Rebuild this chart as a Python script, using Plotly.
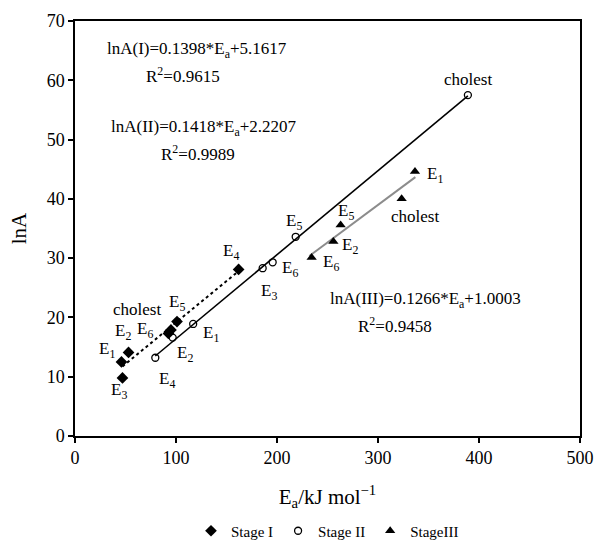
import plotly.graph_objects as go

# ---------------- data ----------------
s1_labels = ["E<sub>1</sub>", "E<sub>2</sub>", "E<sub>3</sub>", "E<sub>4</sub>", "E<sub>5</sub>", "E<sub>6</sub>", "cholest"]
s1_ea = [46, 53, 47, 162, 101, 92.5, 95]
s1_lna = [12.5, 14.1, 9.8, 28.1, 19.3, 17.3, 17.9]

s2_labels = ["E<sub>1</sub>", "E<sub>2</sub>", "E<sub>3</sub>", "E<sub>4</sub>", "E<sub>5</sub>", "E<sub>6</sub>", "cholest"]
s2_ea = [117, 96.7, 185.8, 79.5, 218.5, 195.7, 389]
s2_lna = [18.9, 16.6, 28.3, 13.2, 33.6, 29.3, 57.5]

s3_labels = ["E<sub>1</sub>", "E<sub>2</sub>", "E<sub>5</sub>", "E<sub>6</sub>", "cholest"]
s3_ea = [336.6, 255.8, 263, 234.3, 323.4]
s3_lna = [44.6, 32.8, 35.6, 30.1, 40.0]

# fitted lines (slope, intercept, x-range) as shown on the chart
fit_slope = [0.1398, 0.1418, 0.1266]
fit_intercept = [5.1617, 2.2207, 1.0003]
fit_xrange = [[47, 161], [79.5, 389], [232, 337]]
fit_r2 = ["0.9615", "0.9989", "0.9458"]
fit_names = ["I", "II", "III"]

# label offsets (pixels, dx right, dy down)
s1_off = [(-14, -12), (-6, -20), (-3, 13), (-8, -17), (0, -19), (-23, -3), (-34, -20)]
s2_off = [(18, 10), (12, 16), (6, 24), (12, 22), (-2, -15), (17, 7), (0, -16)]
s3_off = [(20, 3), (17, 4), (5, -13), (19, 5), (13, 18)]

FONT = "Liberation Serif"

fig = go.Figure()

line_styles = [
    dict(color="black", width=2, dash="dot"),
    dict(color="black", width=1.6),
    dict(color="#8c8c8c", width=2),
]
for i in range(3):
    x0, x1 = fit_xrange[i]
    fig.add_trace(go.Scatter(
        x=[x0, x1],
        y=[fit_slope[i] * x0 + fit_intercept[i], fit_slope[i] * x1 + fit_intercept[i]],
        mode="lines", line=line_styles[i], showlegend=False, hoverinfo="skip"))

fig.add_trace(go.Scatter(x=s1_ea, y=s1_lna, mode="markers", name="Stage I",
                         marker=dict(symbol="diamond", size=9, color="black")))
fig.add_trace(go.Scatter(x=s2_ea, y=s2_lna, mode="markers", name="Stage II",
                         marker=dict(symbol="circle-open", size=7, color="black",
                                     line=dict(width=1.3, color="black"))))
fig.add_trace(go.Scatter(x=s3_ea, y=s3_lna, mode="markers", name="StageIII",
                         marker=dict(symbol="triangle-up", size=9, color="black")))

ann = []
for labels, xs, ys, offs in [(s1_labels, s1_ea, s1_lna, s1_off),
                             (s2_labels, s2_ea, s2_lna, s2_off),
                             (s3_labels, s3_ea, s3_lna, s3_off)]:
    for lab, x, y, (dx, dy) in zip(labels, xs, ys, offs):
        ann.append(dict(x=x, y=y, xref="x", yref="y", text=lab, showarrow=False,
                        xshift=dx, yshift=-dy, xanchor="center", yanchor="middle",
                        font=dict(family=FONT, size=17, color="black")))

# equations (positions in paper coords)
eq_pos = [((197, 50), (183, 75)), ((203, 128), (198, 153)), ((425, 300), (395, 325))]
L, R, T, B = 75, 580, 21, 436
def px(xp, yp):
    return (xp - L) / (R - L), (B - yp) / (B - T)
for i in range(3):
    (e_x, e_y), (r_x, r_y) = eq_pos[i]
    ex, ey = px(e_x, e_y)
    rx, ry = px(r_x, r_y)
    ann.append(dict(x=ex, y=ey, xref="paper", yref="paper", showarrow=False,
                    text=f"lnA({fit_names[i]})={fit_slope[i]:.4f}*E<sub>a</sub>+{fit_intercept[i]:.4f}",
                    xanchor="center", yanchor="middle",
                    font=dict(family=FONT, size=17, color="black")))
    ann.append(dict(x=rx, y=ry, xref="paper", yref="paper", showarrow=False,
                    text=f"R<sup>2</sup>={fit_r2[i]}",
                    xanchor="center", yanchor="middle",
                    font=dict(family=FONT, size=17, color="black")))

fig.update_layout(
    template="none",
    width=597, height=545,
    margin=dict(l=L, r=597 - R, t=T, b=545 - B, autoexpand=False),
    paper_bgcolor="white", plot_bgcolor="white",
    font=dict(family=FONT, color="black"),
    annotations=ann,
    showlegend=True,
    legend=dict(orientation="h", x=0.5, xanchor="center",
                yref="container", y=1 - 531 / 545, yanchor="middle",
                font=dict(family=FONT, size=15, color="black"),
                itemwidth=30, tracegroupgap=0, bgcolor="rgba(0,0,0,0)"),
)
fig.update_xaxes(range=[0, 500], dtick=100, showgrid=False, zeroline=False, automargin=False,
                 showline=True, linecolor="black", linewidth=1.5, mirror=True,
                 ticks="outside", ticklen=5, tickwidth=1.5, tickcolor="black",
                 tickfont=dict(family=FONT, size=18, color="black"),
                 title=dict(text="E<sub>a</sub>/kJ mol<sup>−1</sup>", standoff=22,
                            font=dict(family=FONT, size=21, color="black")))
fig.update_yaxes(range=[0, 70], dtick=10, showgrid=False, zeroline=False, automargin=False,
                 showline=True, linecolor="black", linewidth=1.5, mirror=True,
                 ticks="outside", ticklen=5, tickwidth=1.5, tickcolor="black",
                 tickfont=dict(family=FONT, size=18, color="black"),
                 title=dict(text="lnA", standoff=14,
                            font=dict(family=FONT, size=21, color="black")))

fig.write_html("out.html", config={"displayModeBar": False},
               post_script="document.body.style.margin='0';document.body.style.overflow='hidden';")
